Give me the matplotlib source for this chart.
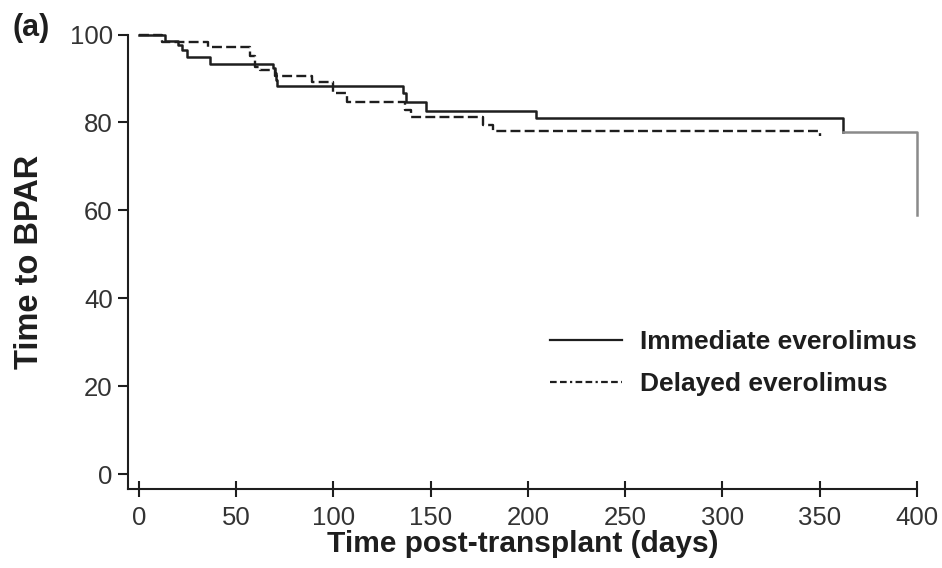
import matplotlib
matplotlib.use("Agg")
import matplotlib.pyplot as plt
from matplotlib.lines import Line2D

# ---- data ----
imm_t = [0, 13.4, 20.2, 22.0, 24.5, 36.5, 69.0, 69.7, 70.2, 70.7, 135.8, 137.2, 147.8, 204.0, 362.0]
imm_s = [100, 98.5, 97.6, 96.5, 94.8, 93.4, 92.3, 91.2, 89.7, 88.3, 86.6, 84.6, 82.6, 80.9, 77.8]
tail_t = [362.0, 400.0]
tail_s = [77.8, 58.9]
del_t = [0, 11.6, 35.5, 57.0, 59.5, 62.0, 70.0, 89.0, 100.0, 107.0, 137.0, 140.0, 177.0, 182.0, 350.0]
del_s = [100, 98.3, 97.2, 95.0, 92.7, 91.9, 90.5, 89.3, 86.8, 84.6, 82.8, 81.2, 79.5, 78.1, 76.8]
xticks = [0, 50, 100, 150, 200, 250, 300, 350, 400]
yticks = [0, 20, 40, 60, 80, 100]
labels = ["Immediate everolimus", "Delayed everolimus"]

plt.rcParams['font.family'] = ['Liberation Sans', 'DejaVu Sans']
W, H = 942, 568
fig = plt.figure(figsize=(W / 100, H / 100), dpi=100)
ax = fig.add_axes([128 / W, 1 - 489 / H, (917 - 128) / W, (489 - 34.5) / H])

dark = '#1e1e1e'
ax.step(imm_t, imm_s, where='post', color=dark, lw=1.8, clip_on=False)
ax.step(tail_t, tail_s, where='post', color='#8a8a8a', lw=1.8, clip_on=False)
ax.step(del_t, del_s, where='post', color=dark, lw=1.7, clip_on=False,
        dashes=(4.2, 1.8))

ax.set_xlim(-5.65, 400)
ax.set_ylim(-3.4, 100)
ax.set_xticks(xticks)
ax.set_yticks(yticks)
for s in ['top', 'right']:
    ax.spines[s].set_visible(False)
for s in ['left', 'bottom']:
    ax.spines[s].set_linewidth(1.5)
    ax.spines[s].set_color(dark)
ax.tick_params(axis='x', direction='inout', length=12, width=1.5, color=dark,
               labelsize=18.5, labelcolor='#333333', pad=6)
ax.tick_params(axis='y', direction='out', length=7, width=1.5, color=dark,
               labelsize=18.5, labelcolor='#333333', pad=4)

ax.set_xlabel('Time post-transplant (days)', fontsize=21.5, fontweight='bold',
              color=dark, labelpad=0)
ax.set_ylabel('Time to BPAR', fontsize=23.5, fontweight='bold', color=dark)
ax.yaxis.set_label_coords(-0.105, 0.5)

fig.text(12 / W, 1 - 28 / H, '(a)', fontsize=22, fontweight='bold', color=dark,
         ha='left', va='center')

handles = [Line2D([], [], color=dark, lw=1.6),
           Line2D([], [], color=dark, lw=1.6, dashes=(3.0, 1.5, 3.0, 1.5, 1.0, 1.5))]
leg = ax.legend(handles, labels, loc='upper left', bbox_to_anchor=(0.535, 0.35),
                frameon=False, fontsize=19, handlelength=2.73, handletextpad=0.68,
                labelspacing=0.7, borderaxespad=0, borderpad=0)
for t in leg.get_texts():
    t.set_fontweight('bold')
    t.set_color(dark)

fig.savefig('out.png', dpi=100)
